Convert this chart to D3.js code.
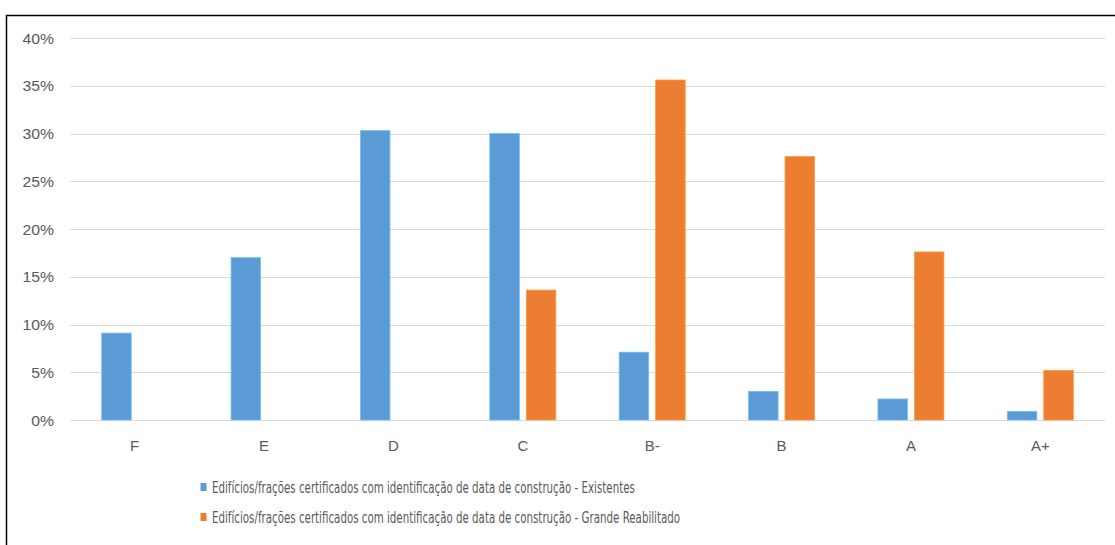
<!DOCTYPE html>
<html>
<head>
<meta charset="utf-8">
<script src="https://cdn.jsdelivr.net/npm/d3@7"></script>
<style>
  html, body { margin: 0; padding: 0; background: #fff; }
  svg { display: block; }
</style>
</head>
<body>
<svg id="chart" width="1115" height="545"></svg>
<script>
// Energy certificate classes (x axis)
const categories = ["F", "E", "D", "C", "B-", "B", "A", "A+"];
// Share of certified buildings/fractions per class (%)
const existentes = [9.1, 17.0, 30.3, 30.0, 7.1, 3.0, 2.2, 0.9];
const grandeReabilitado = [null, null, null, 13.6, 35.6, 27.6, 17.6, 5.2];
const seriesNames = [
  "Edifícios/frações certificados com identificação de data de construção - Existentes",
  "Edifícios/frações certificados com identificação de data de construção - Grande Reabilitado"
];
const seriesColors = ["#5B9BD5", "#ED7D31"];
const yTicks = [0, 5, 10, 15, 20, 25, 30, 35, 40];

const svg = d3.select("#chart");
const fontFamily = "'Liberation Sans', Arial, sans-serif";
const narrowFamily = "'Liberation Sans Narrow', 'DejaVu Sans Condensed', 'Liberation Sans', sans-serif";
const textColor = "#595959";

const plot = { left: 70, right: 1105, top: 38, bottom: 420 };

// Outer frame (top and left edges)
svg.append("path")
  .attr("d", "M6.5,545 L6.5,15.5 L1115,15.5")
  .attr("fill", "none")
  .attr("stroke", "#000")
  .attr("stroke-width", 1.5);

const y = d3.scaleLinear().domain([0, 40]).range([plot.bottom, plot.top]);
const x0 = d3.scaleBand().domain(categories).range([plot.left, plot.right]).padding(0);
const x1 = d3.scaleBand().domain([0, 1]).range([-33, 33]).paddingInner(0.19).paddingOuter(0);

// Horizontal gridlines
svg.append("g")
  .selectAll("line")
  .data(yTicks)
  .join("line")
  .attr("x1", plot.left)
  .attr("x2", plot.right)
  .attr("y1", d => Math.round(y(d)) + 0.5)
  .attr("y2", d => Math.round(y(d)) + 0.5)
  .attr("stroke", "#d9d9d9")
  .attr("stroke-width", 1);

// Y axis labels
const yAxis = d3.axisLeft(y).tickValues(yTicks).tickFormat(d => d + "%").tickSize(0).tickPadding(0);
const yG = svg.append("g").attr("transform", "translate(54,0)").call(yAxis);
yG.select(".domain").remove();
yG.selectAll("text")
  .attr("font-family", fontFamily)
  .attr("font-size", 15)
  .attr("fill", textColor)
  .attr("dy", "0.34em")
  .attr("transform", "scale(1.05,1)");

// X axis labels
const xAxis = d3.axisBottom(x0).tickSize(0).tickPadding(0);
const xG = svg.append("g").attr("transform", "translate(0,440)").call(xAxis);
xG.select(".domain").remove();
xG.selectAll("text")
  .attr("font-family", fontFamily)
  .attr("font-size", 15)
  .attr("fill", textColor)
  .attr("dy", "0.72em");

// Bars
const allSeries = [existentes, grandeReabilitado];
const barData = [];
allSeries.forEach((vals, si) => {
  vals.forEach((v, ci) => {
    if (v !== null) barData.push({ cat: categories[ci], s: si, v });
  });
});

svg.append("g")
  .selectAll("rect")
  .data(barData)
  .join("rect")
  .attr("x", d => x0(d.cat) + x0.bandwidth() / 2 + x1(d.s))
  .attr("width", x1.bandwidth())
  .attr("y", d => y(d.v))
  .attr("height", d => y(0) - y(d.v))
  .attr("fill", d => seriesColors[d.s])
  .attr("stroke", d => d3.color(seriesColors[d.s]).brighter(0.6))
  .attr("stroke-width", 0.8);

// Legend
const legendTextWidth = 423;
const legend = svg.append("g");
let legendScale = null;
seriesNames.forEach((name, i) => {
  const cy = 487 + i * 30;
  legend.append("rect")
    .attr("x", 200.5)
    .attr("y", cy - 4)
    .attr("width", 6)
    .attr("height", 8)
    .attr("fill", seriesColors[i]);
  const t = legend.append("text")
    .attr("x", 0)
    .attr("y", 0)
    .attr("font-family", narrowFamily)
    .attr("font-size", 15.5)
    .attr("fill", textColor)
    .attr("dominant-baseline", "central")
    .text(name);
  // Fit the first label into its reserved width; the second uses the same scale
  if (legendScale === null) legendScale = Math.min(1, legendTextWidth / t.node().getComputedTextLength());
  t.attr("transform", `translate(212,${cy}) scale(${legendScale},1)`);
});
</script>
</body>
</html>
